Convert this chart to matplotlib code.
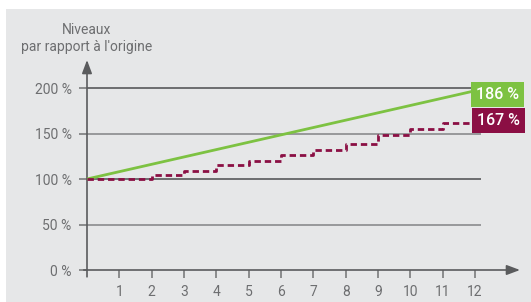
import matplotlib.pyplot as plt
from matplotlib.patches import Rectangle

# données
annees = list(range(0, 13))
ligne_verte = [100, 197]          # droite de 100 % à l'année 12
paliers = [100, 100, 104, 109, 115, 120, 126, 132, 139, 148, 155, 162, 162]
y_ticks = [0, 50, 100, 150, 200]
x_ticks = list(range(1, 13))
etiquettes = ['186 %', '167 %']

plt.rcParams['font.family'] = ['Roboto', 'DejaVu Sans']

fig = plt.figure(figsize=(5.31, 3.02), dpi=100)
fond = Rectangle((6 / 531, 0), 1, (302 - 9) / 302, transform=fig.transFigure,
                 facecolor='#e6e7e8', edgecolor='none', zorder=-10)
fig.add_artist(fond)

ax = fig.add_axes([87 / 531, 32 / 302, 433 / 531, 210 / 302])
ax.set_zorder(5)
ax.patch.set_visible(False)
ax.set_xlim(0, 13.39)
ax.set_ylim(0, 230.8)
for s in ax.spines.values():
    s.set_visible(False)

axe_col = '#7a7b7d'
# quadrillage
for v in y_ticks[1:]:
    c = '#58595b' if v % 100 == 0 else '#8a8b8d'
    ax.hlines(v, 0, 12.19, color=c, lw=1.2, zorder=1)

# axes avec flèches
ax.annotate('', xy=(13.39, 0), xytext=(-0.1, 0), annotation_clip=False,
            arrowprops=dict(arrowstyle='-|>,head_length=0.8,head_width=0.3', color='#5a5b5d', lw=1.2,
                            shrinkA=0, shrinkB=0))
ax.annotate('', xy=(0, 230.8), xytext=(0, -7.5), annotation_clip=False,
            arrowprops=dict(arrowstyle='-|>,head_length=0.8,head_width=0.3', color='#5a5b5d', lw=1.2,
                            shrinkA=0, shrinkB=0))

ax.set_xticks(x_ticks)
ax.set_yticks(y_ticks)
ax.set_yticklabels([f'{v} %' for v in y_ticks])
ax.tick_params(axis='both', direction='out', length=6, width=1.2, color=axe_col,
               labelcolor='#6d6e70', labelsize=10, pad=5)

# séries
ax.plot([0, 12], ligne_verte, color='#7dc242', lw=2, zorder=3, solid_capstyle='butt')
ax.step(annees, paliers, where='post', color='#8b0f44', lw=2, ls=(0, (2.3, 1.4)), zorder=3)

# étiquettes de fin
ax.text(12.03, 193, etiquettes[0], color='white', fontsize=11.5, fontweight='medium', ha='left', va='center',
        bbox=dict(boxstyle='square,pad=0.3', facecolor='#7dc242', edgecolor='none'), zorder=4)
ax.text(12.06, 164, etiquettes[1], color='white', fontsize=11.5, fontweight='medium', ha='left', va='center',
        bbox=dict(boxstyle='square,pad=0.3', facecolor='#8b0f44', edgecolor='none'), zorder=4)

fig.text(87 / 531, 1 - 30 / 302, 'Niveaux', ha='center', va='center', color='#6d6e70', fontsize=10)
fig.text(87 / 531, 1 - 47 / 302, "par rapport à l'origine", ha='center', va='center', color='#6d6e70',
         fontsize=10)

fig.savefig('out.png', dpi=100)
